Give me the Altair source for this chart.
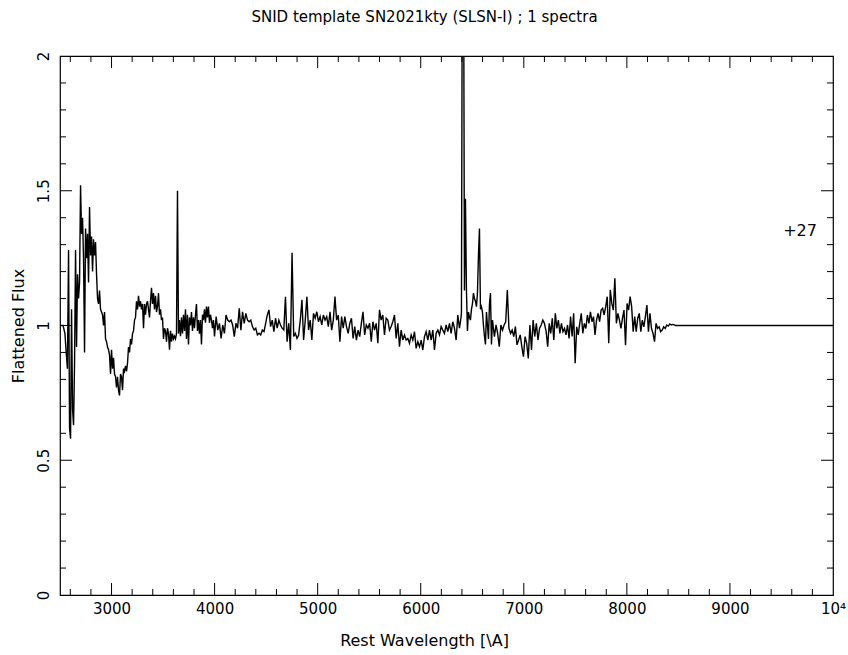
import altair as alt
import numpy as np
import pandas as pd

TITLE = "SNID template SN2021kty (SLSN-I) ; 1 spectra"
X_TITLE = "Rest Wavelength [\\A]"
Y_TITLE = "Flattened Flux"
PHASE_LABEL = "+27"
PHASE_WAVE = [9680]
PHASE_FLUX = [1.35]

X_LABEL_VALUES = [3000, 4000, 5000, 6000, 7000, 8000, 9000, 10000]
Y_LABEL_VALUES = [0, 0.5, 1, 1.5, 2]
X_MAJOR_TICKS = [3000, 4000, 5000, 6000, 7000, 8000, 9000]
X_MINOR_TICKS = [2600, 2800, 3200, 3400, 3600, 3800, 4200, 4400, 4600, 4800,
                 5200, 5400, 5600, 5800, 6200, 6400, 6600, 6800, 7200, 7400,
                 7600, 7800, 8200, 8400, 8600, 8800, 9200, 9400, 9600, 9800]
Y_MAJOR_TICKS = [0.5, 1.0, 1.5]
Y_MINOR_TICKS = [0.1, 0.2, 0.3, 0.4, 0.6, 0.7, 0.8, 0.9, 1.1, 1.2, 1.3, 1.4,
                 1.6, 1.7, 1.8, 1.9]

# leading edge of the template
EDGE_WAVE = [2500, 2530, 2548, 2560, 2572]
EDGE_FLUX = [1.00, 1.00, 0.97, 0.90, 0.84]

# spectrum segments: (first wavelength, last wavelength, flux values)
SEG1_RANGE = (2583, 3989)
SEG1_FLUX = [
    1.28, 0.62, 0.58, 1.06, 0.69, 0.63, 0.86, 1.28, 0.92, 1.19,
    1.10, 1.16, 1.52, 1.34, 1.40, 1.25, 0.90, 1.36, 1.25, 1.34,
    1.16, 1.44, 1.26, 1.33, 1.20, 1.32, 1.26, 1.31, 1.19, 1.10,
    1.08, 1.13, 1.06, 1.05, 1.04, 1.00, 1.05, 0.95, 0.94, 0.92,
    0.91, 0.89, 0.82, 0.91, 0.84, 0.88, 0.82, 0.81, 0.77, 0.81,
    0.76, 0.74, 0.82, 0.81, 0.76, 0.84, 0.83, 0.85, 0.83, 0.86,
    0.92, 0.90, 0.95, 0.93, 0.97, 0.98, 1.02, 1.03, 1.09, 1.06,
    1.11, 1.07, 1.09, 1.06, 1.08, 0.99, 1.08, 1.04, 1.08, 1.09,
    1.06, 1.03, 1.09, 1.14, 1.08, 1.12, 1.06, 1.11, 1.05, 1.07,
    1.12, 1.04, 1.06, 1.02, 1.03, 0.95, 0.99, 0.98, 0.94, 0.99,
    0.97, 0.91, 0.98, 0.94, 0.97, 0.95, 0.96, 0.95, 0.97, 1.50,
    0.97, 1.02, 0.96, 1.03, 0.97, 1.04, 0.98, 1.06, 0.95, 1.04,
    0.93, 1.03, 1.00, 1.05, 0.98, 1.03, 0.99, 1.04, 1.08, 0.98,
    1.02, 0.97, 1.02, 0.93, 1.04, 1.02, 1.06, 1.01, 1.07, 1.03,
    1.07, 1.01, 1.04, 1.02, 0.99, 1.02,
]

SEG2_RANGE = (3999, 5600)
SEG2_FLUX = [
    0.959, 1.033, 0.983, 1.008, 0.952, 1.002, 0.971, 1.039, 1.020, 1.014,
    1.020, 1.002, 0.959, 1.008, 0.990, 1.064, 0.983, 1.051, 1.008, 1.045,
    1.020, 1.014, 1.020, 0.996, 0.983, 0.990, 0.965, 0.971, 0.965, 0.983,
    0.977, 1.008, 1.039, 1.058, 0.996, 1.020, 0.977, 1.027, 0.990, 1.020,
    1.002, 0.990, 0.983, 1.107, 0.940, 1.008, 0.909, 1.270, 0.959, 0.971,
    0.952, 0.965, 1.020, 1.095, 0.946, 1.020, 1.107, 0.983, 1.020, 0.946,
    1.045, 1.027, 1.051, 1.014, 1.033, 1.002, 1.039, 1.020, 1.033, 0.996,
    1.051, 0.983, 1.020, 1.107, 1.020, 1.039, 0.940, 1.033, 0.990, 1.033,
    0.996, 0.971, 1.008, 1.027, 0.952, 0.996, 0.946, 0.983, 0.959, 1.008,
    1.051, 0.965, 1.002, 0.990, 1.008, 0.940, 1.014, 0.983, 1.008, 0.934,
    1.058,
]

SEG3_RANGE = (5616, 6392)
SEG3_FLUX = [
    1.020, 1.039, 0.965, 1.027, 1.020, 0.983, 0.996, 1.014, 1.039, 0.952,
    1.008, 0.921, 0.983, 0.946, 0.965, 0.946, 0.952, 0.934, 0.965, 0.946,
    0.977, 0.915, 0.940, 0.921, 0.946, 0.909, 0.959, 0.977, 0.946, 0.983,
    0.946, 0.983, 0.909, 0.971, 0.983, 0.965, 0.996, 0.983, 0.971, 1.002,
    0.977, 1.008, 0.971, 1.014, 0.990, 0.946, 1.039, 0.990, 1.033,
]

SEG4_RANGE = (6395, 6696)
SEG4_FLUX = [
    1.05, 2.60, 2.60, 1.13, 1.47, 1.13, 0.98, 1.05, 1.03, 1.02,
    1.06, 1.08, 1.12, 1.10, 1.09, 1.07, 1.12, 1.26, 1.36, 1.06,
    1.07, 1.05, 1.00, 0.96, 0.93, 1.05, 1.00, 0.95, 1.08, 1.12,
    0.93, 1.02,
]

SEG5_RANGE = (6715, 7200)
SEG5_FLUX = [
    0.959, 1.002, 0.971, 0.921, 1.002, 0.983, 1.002, 1.014, 1.132, 0.990,
    0.971, 0.983, 0.959, 0.996, 0.928, 0.946, 0.965, 0.921, 0.884, 0.959,
    0.934, 0.878, 1.002, 0.909, 1.020, 0.959, 1.008, 0.946, 0.990, 1.002,
    1.020, 1.008,
]

SEG6_RANGE = (7217, 8461)
SEG6_FLUX = [
    0.977, 0.921, 1.008, 0.971, 1.027, 0.946, 1.045, 0.989, 1.020, 0.971,
    1.008, 0.977, 0.989, 0.965, 1.002, 0.952, 1.033, 0.959, 1.045, 0.860,
    0.995, 0.965, 1.008, 1.045, 0.971, 1.008, 0.989, 1.039, 1.008, 1.051,
    1.014, 1.033, 0.965, 1.020, 1.045, 1.014, 1.057, 1.064, 1.039, 1.070,
    1.107, 0.934, 1.132, 1.082, 1.057, 1.175, 1.008, 1.045, 1.020, 0.989,
    1.027, 1.057, 0.927, 1.082, 1.057, 1.107, 1.070, 0.977, 1.033, 0.977,
    1.027, 1.045, 0.977, 1.020, 0.995, 1.033, 1.076, 0.977, 1.045, 0.989,
    0.971, 0.940, 1.008, 0.989, 0.995, 0.977, 0.983, 0.995, 0.989, 1.002,
    0.998, 1.006, 1.002, 1.004, 1.002,
]

# beyond the template range the flattened flux sits at 1
TAIL_WAVE = [8470, 10000]
TAIL_FLUX = [1.0, 1.0]

segments = [
    (SEG1_RANGE, SEG1_FLUX), (SEG2_RANGE, SEG2_FLUX), (SEG3_RANGE, SEG3_FLUX),
    (SEG4_RANGE, SEG4_FLUX), (SEG5_RANGE, SEG5_FLUX), (SEG6_RANGE, SEG6_FLUX),
]
waves = list(EDGE_WAVE)
fluxes = list(EDGE_FLUX)
for (w0, w1), fl in segments:
    waves += list(np.linspace(w0, w1, len(fl)))
    fluxes += list(fl)
waves += TAIL_WAVE
fluxes += TAIL_FLUX
spec = pd.DataFrame({"wave": waves, "flux": fluxes, "order": range(len(waves))})

W, H = 773, 539
FONT = "DejaVu Sans"
MAJOR, MINOR = 12, 6

xscale = alt.Scale(domain=[2500, 10000], nice=False, zero=False)
yscale = alt.Scale(domain=[0, 2], nice=False, zero=False)

x_axis = alt.Axis(
    title=X_TITLE, values=X_LABEL_VALUES, format="d",
    labelExpr="datum.value == 10000 ? '10\u2074' : datum.label",
    ticks=False, domain=False, grid=False, labelFlush=False,
    labelOverlap=False, labelPadding=6, labelFontSize=15,
    labelFont=FONT, labelColor="black", titleFont=FONT,
    titleFontSize=16, titleFontWeight="normal", titleColor="black",
    titleX=364, titleY=45, titleAlign="center", titleBaseline="middle",
)
y_axis = alt.Axis(
    title=Y_TITLE, values=Y_LABEL_VALUES, format="~g",
    ticks=False, domain=False, grid=False, labelFlush=False,
    labelOverlap=False, labelAngle=270, labelAlign="center",
    labelBaseline="bottom", labelPadding=9, labelFontSize=15,
    labelFont=FONT, labelColor="black", titleFont=FONT,
    titleFontSize=16, titleFontWeight="normal", titleColor="black",
    titleX=-42, titleY=H / 2, titleBaseline="middle",
)

line = alt.Chart(spec).mark_line(color="black", strokeWidth=1.4, clip=True).encode(
    x=alt.X("wave:Q", scale=xscale, axis=x_axis),
    y=alt.Y("flux:Q", scale=yscale, axis=y_axis),
    order="order:Q",
)


def xticks(values, length):
    df = pd.DataFrame({"v": values})
    base = alt.Chart(df).mark_rule(color="black", strokeWidth=1)
    bottom = base.encode(x=alt.X("v:Q", scale=xscale, axis=x_axis),
                         y=alt.value(H), y2=alt.value(H - length))
    top = base.encode(x=alt.X("v:Q", scale=xscale, axis=x_axis),
                      y=alt.value(0), y2=alt.value(length))
    return [bottom, top]


def yticks(values, length):
    df = pd.DataFrame({"v": values})
    base = alt.Chart(df).mark_rule(color="black", strokeWidth=1)
    left = base.encode(y=alt.Y("v:Q", scale=yscale, axis=y_axis),
                       x=alt.value(0), x2=alt.value(length))
    right = base.encode(y=alt.Y("v:Q", scale=yscale, axis=y_axis),
                        x=alt.value(W), x2=alt.value(W - length))
    return [left, right]


label = alt.Chart(pd.DataFrame({"w": PHASE_WAVE, "f": PHASE_FLUX, "t": [PHASE_LABEL]})).mark_text(
    font=FONT, fontSize=16, color="black", align="center", baseline="middle"
).encode(x=alt.X("w:Q", scale=xscale, axis=x_axis),
         y=alt.Y("f:Q", scale=yscale, axis=y_axis), text="t:N")

layers = [line] + xticks(X_MAJOR_TICKS, MAJOR) + xticks(X_MINOR_TICKS, MINOR) \
    + yticks(Y_MAJOR_TICKS, MAJOR) + yticks(Y_MINOR_TICKS, MINOR) + [label]

chart = alt.layer(*layers).properties(
    width=W, height=H,
    autosize=alt.AutoSizeParams(type="none"),
    padding={"left": 60, "top": 56, "right": 15, "bottom": 60},
    title=alt.TitleParams(TITLE, font=FONT, fontSize=15, fontWeight="normal",
                          color="black", anchor="middle", dx=-22, offset=26),
).configure_view(stroke="black", strokeWidth=1.2)

chart.save("out.html", embed_options={"renderer": "svg", "actions": False})
